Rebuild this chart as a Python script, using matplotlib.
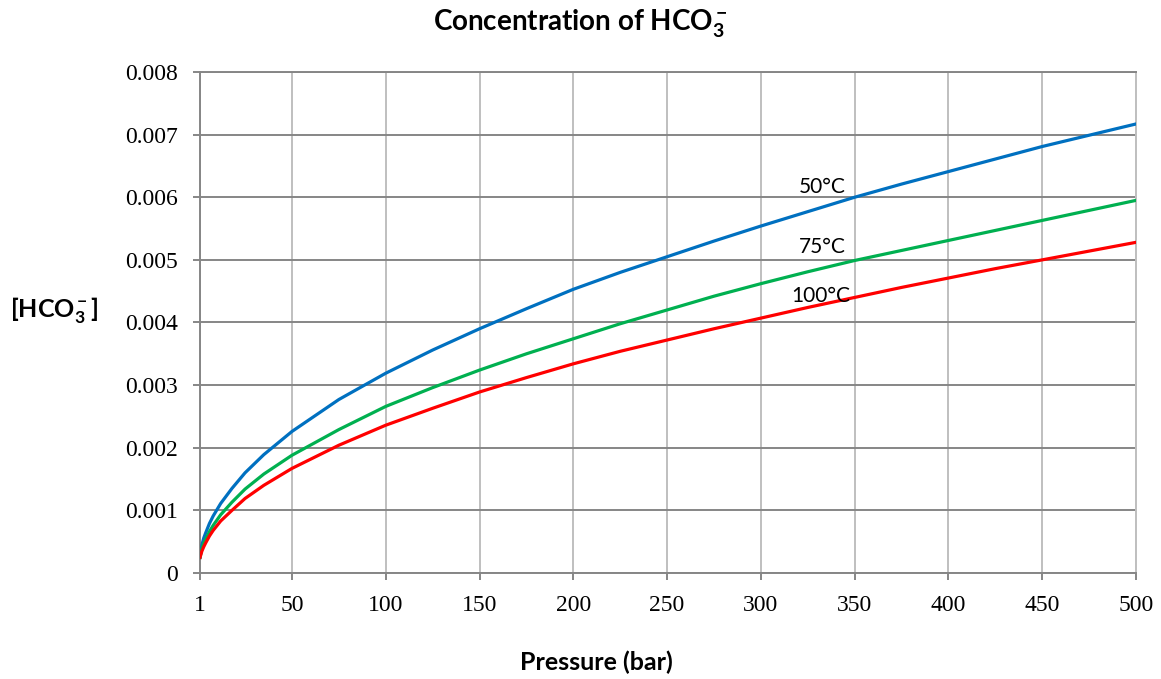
import numpy as np
import matplotlib
matplotlib.use("Agg")
import matplotlib.pyplot as plt

plt.rcParams['mathtext.fontset'] = 'custom'
plt.rcParams['mathtext.rm'] = 'Lato:bold'
plt.rcParams['mathtext.it'] = 'Lato:bold'
plt.rcParams['mathtext.bf'] = 'Lato:bold'

# pressure (bar) and concentration for each temperature
pressure = [1, 2, 3, 4, 6, 8, 12, 18, 25, 35, 50, 75, 100, 125, 150, 175, 200,
            225, 250, 275, 300, 325, 350, 375, 400, 425, 450, 475, 500]
hco3_50 = [0.00025, 0.00045, 0.00056, 0.00064, 0.00079, 0.00091, 0.00111, 0.00135,
           0.00160, 0.00189, 0.00226, 0.00277, 0.00319, 0.00356, 0.00390, 0.00422,
           0.00453, 0.00480, 0.00505, 0.00530, 0.00554, 0.00577, 0.00600, 0.00621,
           0.00641, 0.00661, 0.00681, 0.00699, 0.00717]
hco3_75 = [0.00025, 0.00039, 0.00048, 0.00054, 0.00066, 0.00076, 0.00093, 0.00113,
           0.00134, 0.00158, 0.00188, 0.00229, 0.00266, 0.00296, 0.00324, 0.00350,
           0.00374, 0.00398, 0.00420, 0.00442, 0.00462, 0.00481, 0.00499, 0.00515,
           0.00531, 0.00547, 0.00563, 0.00579, 0.00595]
hco3_100 = [0.00025, 0.00035, 0.00042, 0.00048, 0.00059, 0.00068, 0.00083, 0.00100,
            0.00119, 0.00140, 0.00167, 0.00204, 0.00236, 0.00263, 0.00289, 0.00312,
            0.00334, 0.00354, 0.00372, 0.00390, 0.00407, 0.00424, 0.00440, 0.00456,
            0.00471, 0.00486, 0.00500, 0.00514, 0.00528]

xticks = [1, 50, 100, 150, 200, 250, 300, 350, 400, 450, 500]
yticks = [0, 0.001, 0.002, 0.003, 0.004, 0.005, 0.006, 0.007, 0.008]
ytick_labels = ['0', '0.001', '0.002', '0.003', '0.004', '0.005', '0.006', '0.007', '0.008']

fig = plt.figure(figsize=(11.61, 6.79), dpi=100)
ax = fig.add_axes([0.1723, 0.1561, 0.8062, 0.7379])

dark = '#868686'
light = '#BFBFBF'

ax.plot(pressure, hco3_50, color='#0070C0', lw=2.3, zorder=3)
ax.plot(pressure, hco3_75, color='#00B050', lw=2.3, zorder=3)
ax.plot(pressure, hco3_100, color='#FF0000', lw=2.3, zorder=3)

ax.set_xlim(1, 500)
ax.set_ylim(0, 0.008)
ax.set_xticks(xticks)
ax.set_xticklabels([str(t) for t in xticks], family='Liberation Serif', fontsize=17)
ax.set_yticks(yticks)
ax.set_yticklabels(ytick_labels, family='Liberation Serif', fontsize=17)

ax.grid(axis='y', color=dark, lw=1.4)
ax.grid(axis='x', color=light, lw=1.4)
ax.set_axisbelow(True)

for side in ['left', 'bottom', 'top']:
    ax.spines[side].set_color(dark)
    ax.spines[side].set_linewidth(1.4)
ax.spines['right'].set_color(light)
ax.spines['right'].set_linewidth(1.4)

ax.tick_params(axis='both', direction='out', length=5, width=1.4, color=dark, pad=11)

ax.text(345, 0.00617, '50°C', family='Lato', fontsize=15, ha='right', va='center')
ax.text(345, 0.00520, '75°C', family='Lato', fontsize=15, ha='right', va='center')
ax.text(347.5, 0.00442, '100°C', family='Lato', fontsize=15, ha='right', va='center')

fig.text(0.5, 0.965, 'Concentration of HCO$_3^-$', family='Lato', fontweight='bold',
         fontsize=20, ha='center', va='center')
fig.text(0.514, 0.024, 'Pressure (bar)', family='Lato', fontweight='bold',
         fontsize=18, ha='center', va='center')
fig.text(0.047, 0.543, '[HCO$_3^-$]', family='Lato', fontweight='bold',
         fontsize=18, ha='center', va='center')

plt.savefig('out.png', dpi=100)
